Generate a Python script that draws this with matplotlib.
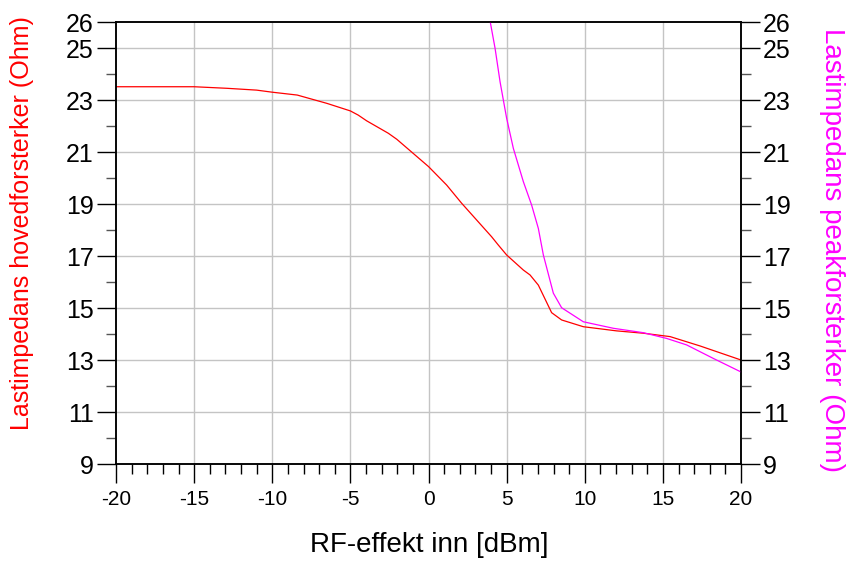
import numpy as np
import matplotlib
matplotlib.use("Agg")
import matplotlib.pyplot as plt
from matplotlib.ticker import MultipleLocator, FixedLocator

plt.rcParams['font.family'] = ['Liberation Sans', 'DejaVu Sans']

# main amplifier load impedance (left axis)
main_x = [-20, -15, -12.9, -11.0, -10.0, -8.4, -6.5, -5.0, -4.5, -3.96, -2.57,
          -2.03, 0.0, 1.16, 2.12, 4.04, 4.47, 5.0, 6.07, 6.5, 7.03, 7.88,
          8.52, 9.91, 12.04, 13.75, 15.46, 17.38, 20.0]
main_y = [23.51, 23.51, 23.45, 23.38, 23.30, 23.19, 22.87, 22.58, 22.42, 22.2, 21.72,
          21.49, 20.44, 19.73, 19.03, 17.74, 17.42, 17.04, 16.46, 16.27, 15.88, 14.82,
          14.54, 14.28, 14.12, 14.03, 13.9, 13.54, 13.0]

# peak amplifier load impedance (right axis)
peak_x = [3.94, 4.26, 4.58, 5.0, 5.43, 6.07, 6.6, 7.03, 7.35, 7.99, 8.52,
          9.91, 11.83, 13.75, 15.24, 16.52, 18.23, 20.0]
peak_y = [26.04, 24.99, 23.7, 22.3, 21.14, 19.86, 18.96, 18.06, 17.04, 15.57, 15.01,
          14.47, 14.22, 14.05, 13.83, 13.58, 13.06, 12.54]

y_major = [9, 11, 13, 15, 17, 19, 21, 23, 25, 26]
y_minor = [10, 12, 14, 16, 18, 20, 22, 24]

fig = plt.figure(figsize=(8.47, 5.62), dpi=100)
ax = fig.add_axes([116 / 847, 98 / 562, 625 / 847, 442 / 562])
ax2 = ax.twinx()

for a in (ax, ax2):
    a.set_xlim(-20, 20)
    a.set_ylim(9, 26)
    a.yaxis.set_major_locator(FixedLocator(y_major))
    a.yaxis.set_minor_locator(FixedLocator(y_minor))
    for s in a.spines.values():
        s.set_linewidth(1.1)
        s.set_color('black')

ax.xaxis.set_major_locator(MultipleLocator(5))
ax.xaxis.set_minor_locator(MultipleLocator(1))

# grid: x every 5, y at odd values only
for gx in range(-15, 20, 5):
    ax.axvline(gx, color='#c4c4c4', lw=1.0, zorder=0)
for gy in [11, 13, 15, 17, 19, 21, 23, 25]:
    ax.axhline(gy, color='#c4c4c4', lw=1.0, zorder=0)

ax.tick_params(axis='x', which='major', direction='out', length=14, width=1.0,
               labelsize=15, pad=5)
ax.tick_params(axis='x', which='minor', direction='out', length=7, width=1.0)
ax.tick_params(axis='y', which='major', direction='out', length=14, width=1.0,
               labelsize=18, pad=2)
ax.tick_params(axis='y', which='minor', direction='out', length=7, width=1.0,
               color='#555555')
ax2.tick_params(axis='y', which='major', direction='out', length=14, width=1.0,
                labelsize=18, pad=2)
ax2.tick_params(axis='y', which='minor', direction='out', length=7, width=1.0,
                color='#555555')

ax.set_xticklabels([str(int(v)) for v in ax.get_xticks()])

ax.plot(main_x, main_y, color='#ff0000', lw=0.9)
ax2.plot(peak_x, peak_y, color='#ff00ff', lw=0.9, clip_on=True)

fig.text(429 / 847, 1 - 545 / 562, 'RF-effekt inn [dBm]', fontsize=20,
         ha='center', va='center')
fig.text(22 / 847, 1 - 223 / 562, 'Lastimpedans hovedforsterker (Ohm)', fontsize=18,
         color='#ff0000', rotation=90, ha='center', va='center')
fig.text(832 / 847, 1 - 250 / 562, 'Lastimpedans peakforsterker (Ohm)', fontsize=20,
         color='#ff00ff', rotation=270, ha='center', va='center')

fig.savefig('out.png', dpi=100)
